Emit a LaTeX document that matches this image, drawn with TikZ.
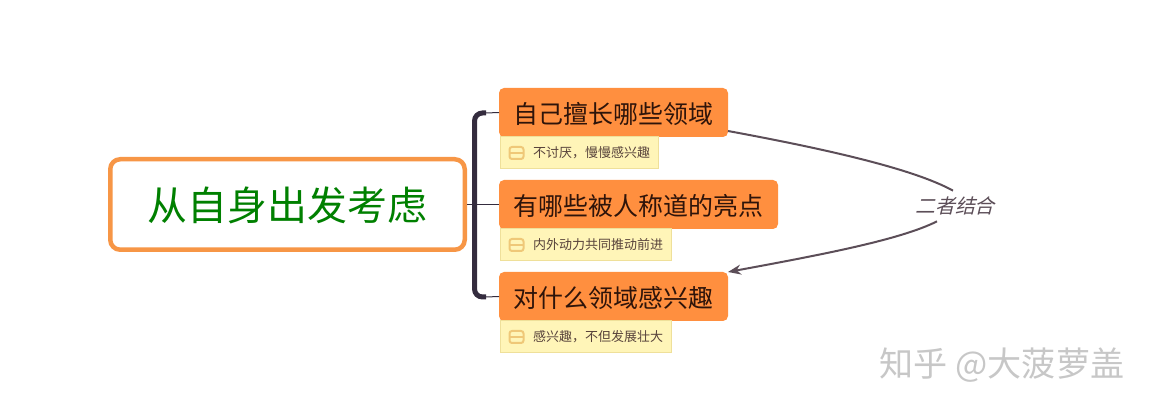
\documentclass[tikz,border=0pt]{standalone}
\usepackage{fontspec}
\usetikzlibrary{arrows.meta}
\setmainfont{Noto Sans CJK SC}
\newfontfamily\slantfont[FakeSlant=0.25]{Noto Sans CJK SC}
\definecolor{rootline}{HTML}{F79646}
\definecolor{branchfill}{HTML}{FF8F3F}
\definecolor{branchtext}{HTML}{2E140A}
\definecolor{notefill}{HTML}{FFF5B8}
\definecolor{noteline}{HTML}{EFE09A}
\definecolor{iconline}{HTML}{EFC878}
\definecolor{trunkcol}{HTML}{342C3E}
\definecolor{linkcol}{HTML}{5C4E58}
\tikzset{
  rootbox/.style={draw=rootline,line width=0.09cm,rounded corners=0.2cm,fill=white,minimum width=7.09cm,minimum height=1.81cm,inner sep=0pt,text=green!50!black,text height=0.76cm,text depth=0.1cm,font=\fontsize{22.7}{26}\selectfont},
  branchbox/.style={fill=branchfill,rounded corners=0.1cm,minimum height=0.98cm,inner sep=0pt,outer sep=0pt,anchor=west,text=branchtext,text height=0.5cm,text depth=0.06cm,font=\fontsize{14.2}{17}\selectfont},
  notebox/.style={draw=noteline,line width=0.02cm,fill=notefill,minimum height=0.64cm,inner sep=0pt,outer sep=0pt,anchor=north west,align=left,text=branchtext!80,font=\fontsize{7.4}{9}\selectfont},
  noteicon/.style={draw=iconline,line width=0.04cm,rounded corners=0.05cm},
  thinline/.style={draw=trunkcol,line width=0.02cm},
  trunk/.style={draw=trunkcol,line width=0.1cm,rounded corners=0.16cm},
  link/.style={draw=linkcol,line width=0.04cm},
}
\begin{document}
\begin{tikzpicture}[]

\useasboundingbox (0,0) rectangle (23.08,8.2);

\node[rootbox] (root) at (5.75,4.11) {从自身出发考虑};

\node[branchbox,minimum width=4.58cm] (brancha) at (9.98,5.95) {自己擅长哪些领域};
\node[branchbox,minimum width=5.58cm] (branchb) at (9.98,4.11) {有哪些被人称道的亮点};
\node[branchbox,minimum width=4.58cm] (branchc) at (9.98,2.27) {对什么领域感兴趣};

\node[notebox,text width=3.16cm] (notea) at ([xshift=0.02cm]brancha.south west) {\hspace*{0.66cm}不讨厌，慢慢感兴趣};
\node[notebox,text width=3.42cm] (noteb) at ([xshift=0.02cm]branchb.south west) {\hspace*{0.66cm}内外动力共同推动前进};
\node[notebox,text width=3.42cm] (notec) at ([xshift=0.02cm]branchc.south west) {\hspace*{0.66cm}感兴趣，不但发展壮大};

\foreach \n in {notea,noteb,notec} {
  \draw[noteicon] ([xshift=0.19cm,yshift=-0.12cm]\n.west) rectangle ([xshift=0.47cm,yshift=0.12cm]\n.west);
  \draw[noteicon] ([xshift=0.19cm]\n.west) -- ([xshift=0.47cm]\n.west);
}

\coordinate (trunkmid) at (9.49,4.11);
\coordinate (tophook) at (9.72,5.94);
\coordinate (lowhook) at (9.72,2.26);

\draw[thinline] (root.east) -- (branchb.west);
\draw[thinline] (tophook) -- (brancha.west);
\draw[thinline] (lowhook) -- (branchc.west);
\draw[trunk] (tophook) -- (tophook -| trunkmid) -- (lowhook -| trunkmid) -- (lowhook);

\node[minimum width=1.62cm,minimum height=0.6cm,inner sep=0pt,text=linkcol,font=\fontsize{11.3}{13}\slantfont] (linklabel) at (19.1,4.08) {二者结合};

\draw[link] ([yshift=0.12cm]brancha.south east) .. controls (16.4,5.24) and (18.24,4.84) .. ([xshift=-0.04cm]linklabel.north);
\draw[link,-{Stealth[length=0.26cm,width=0.2cm]}] ([xshift=-0.36cm]linklabel.south) .. controls (18,3.4) and (16.4,3.1) .. (branchc.north east);

\node[text=black!22,font=\fontsize{19.4}{23}\selectfont] (mark) at (20.04,0.9) {知乎 @大菠萝盖};

\end{tikzpicture}
\end{document}
